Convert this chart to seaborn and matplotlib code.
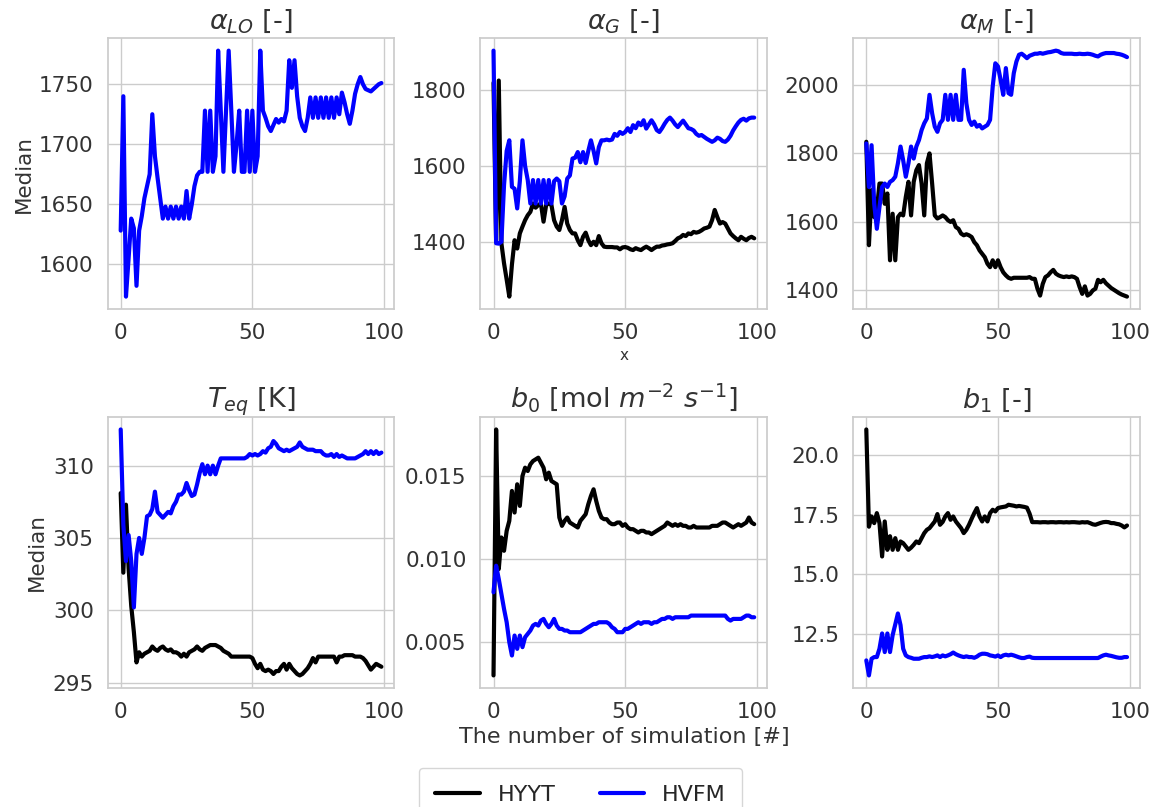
import numpy as np
import pandas as pd
import matplotlib
matplotlib.use("Agg")
import matplotlib.pyplot as plt
import seaborn as sns

sim = list(range(100))

aLO_HVFM = [1628,1740,1573,1605,1638,1630,1582,1628,1640,1655,
            1665,1675,1725,1690,1672,1655,1638,1648,1638,1648,
            1638,1648,1638,1648,1638,1661,1638,1650,1665,1674,
            1677,1677,1728,1677,1728,1677,1690,1778,1728,1677,
            1728,1778,1728,1677,1700,1728,1677,1677,1728,1677,
            1728,1677,1690,1778,1728,1722,1715,1711,1716,1721,
            1718,1721,1719,1728,1770,1747,1770,1740,1722,1715,
            1711,1722,1739,1722,1739,1722,1739,1722,1739,1722,
            1739,1722,1739,1725,1743,1735,1725,1717,1728,1742,
            1750,1756,1750,1746,1745,1744,1746,1748,1750,1751]

aG_HYYT = [1820,1400,1826,1396,1343,1300,1255,1340,1404,1382,
           1422,1440,1457,1470,1479,1501,1490,1497,1501,1453,
           1497,1501,1497,1457,1440,1431,1457,1492,1448,1431,
           1422,1422,1404,1391,1413,1424,1404,1391,1400,1391,
           1415,1396,1387,1386,1386,1386,1385,1385,1380,1385,
           1386,1384,1380,1378,1383,1380,1378,1383,1387,1383,
           1378,1383,1387,1387,1390,1391,1393,1394,1396,1402,
           1409,1412,1418,1415,1422,1420,1426,1424,1426,1430,
           1435,1437,1440,1457,1484,1465,1448,1452,1448,1435,
           1422,1415,1409,1404,1413,1408,1404,1410,1413,1409]
aG_HVFM = [1905,1396,1395,1400,1550,1640,1668,1545,1540,1488,
           1560,1668,1600,1563,1501,1563,1501,1563,1501,1563,
           1501,1563,1501,1560,1567,1560,1501,1520,1567,1575,
           1620,1622,1637,1610,1637,1608,1640,1668,1640,1607,
           1650,1668,1668,1670,1668,1670,1685,1680,1690,1685,
           1690,1700,1690,1708,1700,1715,1708,1721,1699,1710,
           1721,1710,1695,1690,1700,1712,1722,1728,1720,1710,
           1703,1712,1720,1710,1700,1698,1694,1685,1680,1682,
           1677,1672,1668,1664,1668,1675,1672,1666,1664,1670,
           1680,1694,1705,1715,1722,1725,1720,1726,1728,1728]

aM_HYYT = [1834,1532,1693,1614,1634,1712,1712,1653,1683,1488,
           1624,1488,1614,1624,1619,1673,1717,1619,1717,1751,
           1766,1712,1619,1771,1800,1712,1619,1610,1614,1619,
           1614,1605,1600,1605,1585,1580,1566,1561,1564,1561,
           1556,1541,1532,1517,1507,1497,1478,1468,1488,1468,
           1488,1468,1453,1444,1437,1434,1437,1437,1437,1437,
           1437,1437,1439,1434,1434,1405,1385,1419,1439,1444,
           1453,1460,1449,1444,1441,1439,1441,1439,1441,1439,
           1434,1410,1390,1412,1385,1390,1400,1405,1431,1424,
           1431,1421,1414,1407,1402,1397,1392,1388,1385,1382]
aM_HVFM = [1829,1702,1824,1653,1580,1644,1702,1712,1702,1717,
           1722,1732,1771,1820,1780,1732,1771,1820,1785,1820,
           1839,1868,1888,1902,1971,1917,1878,1863,1888,1898,
           1971,1898,1971,1898,1971,1898,1898,2044,1946,1898,
           1883,1893,1878,1883,1873,1878,1883,1898,1995,2063,
           2054,2015,1971,2049,1976,1971,2034,2068,2088,2091,
           2085,2078,2085,2088,2091,2091,2093,2091,2093,2095,
           2096,2098,2100,2098,2093,2091,2091,2091,2091,2090,
           2090,2091,2090,2090,2091,2090,2088,2085,2083,2088,
           2091,2093,2093,2093,2093,2091,2090,2088,2085,2081]

Teq_HYYT = [308.1,302.6,307.3,302.9,300.3,298.5,296.4,297.1,296.8,297.0,
            297.1,297.2,297.5,297.3,297.2,297.4,297.5,297.3,297.2,297.3,
            297.1,297.1,297.0,296.8,297.0,296.8,297.1,297.2,297.3,297.5,
            297.3,297.2,297.4,297.5,297.6,297.6,297.6,297.5,297.4,297.2,
            297.1,297.0,296.8,296.8,296.8,296.8,296.8,296.8,296.8,296.8,
            296.7,296.3,296.0,296.3,295.9,295.8,295.9,295.8,295.6,295.8,
            295.8,296.1,296.3,295.9,296.3,296.0,295.8,295.6,295.5,295.6,
            295.8,296.0,296.3,296.7,296.4,296.8,296.8,296.8,296.8,296.8,
            296.8,296.8,296.4,296.8,296.8,296.9,296.9,296.9,296.9,296.8,
            296.8,296.8,296.7,296.5,296.2,295.9,296.1,296.3,296.2,296.1]
Teq_HVFM = [312.5,305.9,303.4,305.2,303.4,300.2,303.9,305.0,303.9,305.0,
            306.5,306.6,307.0,308.2,306.8,306.6,306.4,306.6,306.8,306.7,
            307.2,307.5,308.0,308.0,308.2,308.8,308.3,307.9,308.0,308.7,
            309.5,310.1,309.4,310.0,309.4,310.0,309.4,310.0,310.5,310.5,
            310.5,310.5,310.5,310.5,310.5,310.5,310.5,310.5,310.6,310.8,
            310.7,310.8,310.7,310.8,311.0,310.9,311.2,311.3,311.7,311.5,
            311.2,311.1,311.0,311.1,311.0,311.1,311.2,311.3,311.6,311.3,
            311.2,311.1,311.1,311.1,311.0,311.0,311.0,310.8,310.7,310.7,
            310.8,310.6,310.8,310.6,310.7,310.6,310.5,310.5,310.5,310.5,
            310.6,310.7,310.8,311.0,310.8,311.0,310.8,311.0,310.8,310.9]

b0_HYYT = [0.0030,0.0178,0.0094,0.0113,0.0105,0.0117,0.0123,0.0141,0.0128,0.0145,
           0.0132,0.0150,0.0155,0.0153,0.0157,0.0159,0.0160,0.0161,0.0158,0.0155,
           0.0148,0.0152,0.0147,0.0146,0.0145,0.0125,0.0120,0.0123,0.0125,0.0122,
           0.0121,0.0120,0.0119,0.0123,0.0125,0.0127,0.0133,0.0138,0.0142,0.0135,
           0.0129,0.0125,0.0124,0.0124,0.0122,0.0121,0.0121,0.0122,0.0122,0.0120,
           0.0121,0.0119,0.0118,0.0118,0.0117,0.0116,0.0117,0.0117,0.0116,0.0116,
           0.0115,0.0116,0.0117,0.0118,0.0119,0.0120,0.0122,0.0121,0.0120,0.0121,
           0.0120,0.0121,0.0120,0.0120,0.0119,0.0119,0.0120,0.0119,0.0119,0.0119,
           0.0119,0.0119,0.0119,0.0120,0.0120,0.0120,0.0121,0.0122,0.0122,0.0121,
           0.0120,0.0119,0.0120,0.0121,0.0120,0.0121,0.0122,0.0125,0.0122,0.0121]
b0_HVFM = [0.0080,0.0096,0.0088,0.0079,0.0070,0.0062,0.0050,0.0042,0.0054,0.0046,
           0.0054,0.0047,0.0053,0.0055,0.0057,0.0060,0.0061,0.0060,0.0063,0.0064,
           0.0061,0.0059,0.0061,0.0064,0.0060,0.0058,0.0058,0.0057,0.0057,0.0056,
           0.0056,0.0056,0.0056,0.0056,0.0057,0.0058,0.0059,0.0060,0.0061,0.0061,
           0.0062,0.0062,0.0062,0.0062,0.0061,0.0059,0.0058,0.0056,0.0056,0.0056,
           0.0058,0.0058,0.0059,0.0060,0.0061,0.0062,0.0061,0.0062,0.0062,0.0062,
           0.0061,0.0062,0.0062,0.0063,0.0064,0.0064,0.0065,0.0065,0.0064,0.0065,
           0.0065,0.0065,0.0065,0.0065,0.0065,0.0066,0.0066,0.0066,0.0066,0.0066,
           0.0066,0.0066,0.0066,0.0066,0.0066,0.0066,0.0066,0.0066,0.0066,0.0064,
           0.0063,0.0064,0.0064,0.0064,0.0064,0.0065,0.0066,0.0066,0.0065,0.0065]

b1_HYYT = [21.08,17.00,17.43,17.15,17.57,17.15,15.75,17.22,16.03,16.60,
           16.03,16.52,16.03,16.38,16.31,16.17,16.03,16.12,16.24,16.38,
           16.31,16.52,16.73,16.87,16.94,17.08,17.22,17.53,17.08,17.20,
           17.43,17.57,17.29,17.43,17.22,17.08,16.94,16.73,16.87,17.08,
           17.33,17.57,17.78,17.43,17.22,17.43,17.22,17.57,17.71,17.64,
           17.78,17.81,17.83,17.85,17.92,17.90,17.88,17.85,17.87,17.85,
           17.83,17.80,17.55,17.19,17.19,17.19,17.18,17.19,17.19,17.18,
           17.19,17.19,17.18,17.19,17.19,17.18,17.19,17.18,17.19,17.19,
           17.18,17.17,17.19,17.18,17.19,17.15,17.10,17.08,17.12,17.16,
           17.19,17.20,17.19,17.15,17.15,17.12,17.10,17.05,16.97,17.05]
b1_HVFM = [11.39,10.76,11.46,11.53,11.53,11.88,12.52,11.74,12.52,11.74,
           12.45,12.90,13.36,12.87,11.88,11.60,11.53,11.50,11.46,11.46,
           11.46,11.50,11.53,11.53,11.56,11.53,11.56,11.60,11.53,11.60,
           11.56,11.60,11.65,11.72,11.65,11.60,11.56,11.53,11.56,11.53,
           11.53,11.50,11.55,11.63,11.67,11.67,11.65,11.60,11.58,11.55,
           11.60,11.53,11.60,11.63,11.60,11.63,11.60,11.56,11.52,11.49,
           11.49,11.53,11.55,11.50,11.49,11.49,11.49,11.49,11.49,11.49,
           11.49,11.49,11.49,11.49,11.49,11.49,11.49,11.49,11.49,11.49,
           11.49,11.49,11.49,11.49,11.49,11.49,11.49,11.49,11.49,11.55,
           11.60,11.63,11.60,11.58,11.55,11.52,11.50,11.50,11.53,11.53]

titles = [r"$\alpha_{LO}$ [-]", r"$\alpha_{G}$ [-]", r"$\alpha_{M}$ [-]",
          r"$T_{eq}$ [K]", r"$b_0$ [mol $m^{-2}$ $s^{-1}$]", r"$b_1$ [-]"]
yticks = [[1600, 1650, 1700, 1750], [1400, 1600, 1800], [1400, 1600, 1800, 2000],
          [295, 300, 305, 310], [0.005, 0.010, 0.015], [12.5, 15.0, 17.5, 20.0]]
xticks = [0, 50, 100]
series = [(None, aLO_HVFM), (aG_HYYT, aG_HVFM), (aM_HYYT, aM_HVFM),
          (Teq_HYYT, Teq_HVFM), (b0_HYYT, b0_HVFM), (b1_HYYT, b1_HVFM)]
ytick_fmt = ["{:.0f}", "{:.0f}", "{:.0f}", "{:.0f}", "{:.3f}", "{:.1f}"]

sns.set_theme(style="whitegrid")
plt.rcParams['font.family'] = ['DejaVu Sans']
TICK = 15.5

fig, axes = plt.subplots(2, 3, figsize=(11.54, 8.07), dpi=100)
fig.subplots_adjust(left=0.0933, right=0.9879, top=0.9525, bottom=0.1478,
                    wspace=0.30, hspace=0.40)

for k, ax in enumerate(axes.flat):
    hy, hv = series[k]
    if hy is not None:
        sns.lineplot(x=sim, y=hy, ax=ax, color="black", linewidth=3, label="HYYT")
    sns.lineplot(x=sim, y=hv, ax=ax, color="blue", linewidth=3, label="HVFM")
    if ax.get_legend() is not None:
        ax.get_legend().remove()
    ax.set_title(titles[k], fontsize=19.5, color="0.2", pad=7)
    ax.set_xticks(xticks)
    ax.set_yticks(yticks[k])
    ax.set_yticklabels([ytick_fmt[k].format(v) for v in yticks[k]])
    ax.tick_params(labelsize=TICK, labelcolor="0.2", pad=4)
    ax.set_xlabel("")
    ax.set_ylabel("")

axes[0, 0].set_ylabel("Median", fontsize=15.5, color="0.2")
axes[1, 0].set_ylabel("Median", fontsize=15.5, color="0.2")
axes[0, 1].set_xlabel("x", fontsize=11, color="0.2")
axes[1, 1].set_xlabel("The number of simulation [#]", fontsize=16, color="0.2")

handles, labels = axes[0, 1].get_legend_handles_labels()
fig.legend(handles, labels, loc="upper center", bbox_to_anchor=(0.503, 1 - 768 / 807),
           ncol=2, fontsize=16, frameon=True, columnspacing=2.0, handlelength=2.0,
           borderaxespad=0, borderpad=0.75)

fig.savefig("out.png", dpi=100)
